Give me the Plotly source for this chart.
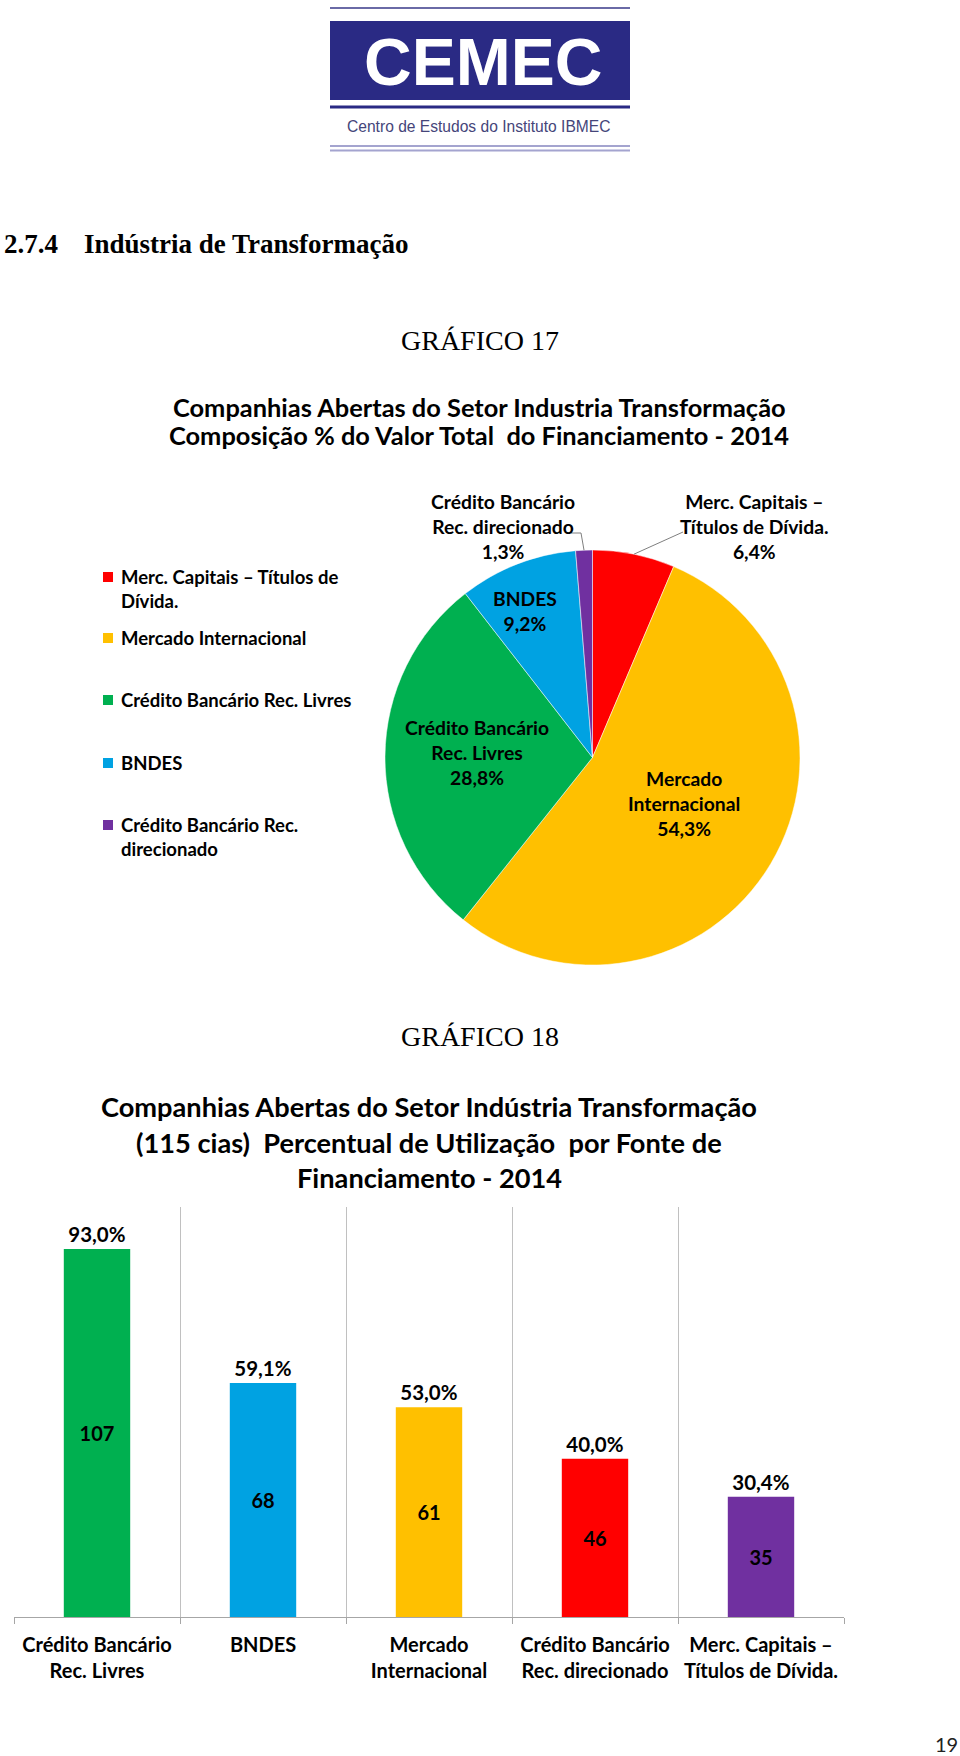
import math
import plotly.graph_objects as go

W, H = 960, 1756

# ---------------- data ----------------
pie_labels = ["Merc. Capitais – Títulos de Dívida.", "Mercado Internacional",
              "Crédito Bancário Rec. Livres", "BNDES", "Crédito Bancário Rec. direcionado"]
pie_values = [6.4, 54.3, 28.8, 9.2, 1.3]
pie_colors = ["#FF0000", "#FFC000", "#00B050", "#00A2E2", "#7030A0"]

bar_categories = ["Crédito Bancário Rec. Livres", "BNDES", "Mercado Internacional",
                  "Crédito Bancário Rec. direcionado", "Merc. Capitais – Títulos de Dívida."]
bar_percent = [93.0, 59.1, 53.0, 40.0, 30.4]
bar_companies = [107, 68, 61, 46, 35]
bar_colors = ["#00B050", "#00A2E2", "#FFC000", "#FF0000", "#7030A0"]

# text wrapping used for labels in charts
wrap_chart = {
    "Merc. Capitais – Títulos de Dívida.": "Merc. Capitais –<br>Títulos de Dívida.",
    "Mercado Internacional": "Mercado<br>Internacional",
    "Crédito Bancário Rec. Livres": "Crédito Bancário<br>Rec. Livres",
    "BNDES": "BNDES",
    "Crédito Bancário Rec. direcionado": "Crédito Bancário<br>Rec. direcionado",
}
wrap_legend = {
    "Merc. Capitais – Títulos de Dívida.": "Merc. Capitais – Títulos de<br>Dívida.",
    "Mercado Internacional": "Mercado Internacional",
    "Crédito Bancário Rec. Livres": "Crédito Bancário Rec. Livres",
    "BNDES": "BNDES",
    "Crédito Bancário Rec. direcionado": "Crédito Bancário Rec.<br>direcionado",
}

def pct(v):
    return f"{v:.1f}%".replace(".", ",")

def px(x):
    return x / W

def py(y):
    return 1 - y / H

SANS = "Lato, Carlito, Calibri, 'Open Sans', sans-serif"
SERIF = "'Liberation Serif', 'Times New Roman', serif"
ARIAL = "'Liberation Sans', Arial, sans-serif"
TXT = "#000000"

fig = go.Figure()

# ---------------- pie ----------------
cx, cy, r = 592.5, 757.5, 207.5
fig.add_trace(go.Pie(
    labels=pie_labels, values=pie_values, sort=False, direction="clockwise", rotation=0,
    marker=dict(colors=pie_colors, line=dict(color="white", width=0.5)),
    textinfo="none", hoverinfo="label+percent", showlegend=False,
    domain=dict(x=[px(cx - r), px(cx + r)], y=[py(cy + r), py(cy - r)]),
))

# slice mid points (for leader lines)
total = sum(pie_values)
mids = []
cum = 0
for v in pie_values:
    a = 2 * math.pi * (cum + v / 2) / total
    mids.append((cx + r * math.sin(a), cy - r * math.cos(a)))
    cum += v

annotations = []
shapes = []

def add_text(x, y, text, size, family=SANS, bold=True, color=TXT, xanchor="center", yanchor="middle"):
    annotations.append(dict(
        x=px(x), y=py(y), xref="paper", yref="paper", text=text, showarrow=False,
        xanchor=xanchor, yanchor=yanchor, align="center" if xanchor == "center" else "left",
        font=dict(family=family, size=size, color=color, weight="bold" if bold else "normal"),
    ))

# pie data labels (positions in pixels)
pie_label_pos = [(754, 527), (684, 803), (477, 752), (525, 611), (503, 527)]
for lab, v, (x, y) in zip(pie_labels, pie_values, pie_label_pos):
    add_text(x, y, f"{wrap_chart[lab]}<br>{pct(v)}", 19.3)

# leader lines for outside labels
mx, my = mids[4]
shapes.append(dict(type="path", xref="paper", yref="paper",
                   path=f"M {px(571)},{py(533)} L {px(581)},{py(533)} L {px(mx)},{py(my)}",
                   line=dict(color="#7F7F7F", width=1)))
mx, my = mids[0]
shapes.append(dict(type="path", xref="paper", yref="paper",
                   path=f"M {px(mx)},{py(my)} L {px(683)},{py(532)}",
                   line=dict(color="#7F7F7F", width=1)))

# legend (left)
leg_rows = [577, 638, 700, 763, 825]
for lab, col, y in zip(pie_labels, pie_colors, leg_rows):
    shapes.append(dict(type="rect", xref="paper", yref="paper",
                       x0=px(103), x1=px(113), y0=py(y - 5), y1=py(y + 5),
                       fillcolor=col, line=dict(width=0)))
    annotations.append(dict(
        x=px(119), y=py(y - 13), xref="paper", yref="paper", text=wrap_legend[lab],
        showarrow=False, xanchor="left", yanchor="top", align="left",
        font=dict(family=SANS, size=18.5, color=TXT, weight="bold")))

# ---------------- bar chart ----------------
xcats = [wrap_chart[c] for c in bar_categories]
fig.add_trace(go.Bar(
    x=xcats, y=bar_percent, marker=dict(color=bar_colors, line=dict(width=0)), width=0.4,
    text=[str(c) for c in bar_companies], textposition="inside", insidetextanchor="middle",
    textangle=0, constraintext="none",
    textfont=dict(family=SANS, size=20, color=TXT, weight="bold"),
    xaxis="x", yaxis="y", showlegend=False, hoverinfo="x+y",
))
fig.add_trace(go.Bar(
    x=xcats, y=bar_percent, marker=dict(color="rgba(0,0,0,0)", line=dict(width=0)), width=0.4,
    text=[pct(p) for p in bar_percent], textposition="outside", textangle=0,
    constraintext="none", cliponaxis=False,
    textfont=dict(family=SANS, size=20.5, color=TXT, weight="bold"),
    xaxis="x", yaxis="y", showlegend=False, hoverinfo="skip",
))

# ---------------- page texts ----------------
# logo
NAVY = "#2A2A84"
shapes.append(dict(type="line", xref="paper", yref="paper", x0=px(330), x1=px(630), y0=py(8), y1=py(8),
                   line=dict(color="#6A6AA6", width=2)))
shapes.append(dict(type="rect", xref="paper", yref="paper", x0=px(330), x1=px(630), y0=py(100), y1=py(21),
                   fillcolor=NAVY, line=dict(width=0)))
shapes.append(dict(type="line", xref="paper", yref="paper", x0=px(330), x1=px(630), y0=py(107), y1=py(107),
                   line=dict(color=NAVY, width=3)))
shapes.append(dict(type="line", xref="paper", yref="paper", x0=px(330), x1=px(630), y0=py(146), y1=py(146),
                   line=dict(color="#A4A4CF", width=2)))
shapes.append(dict(type="line", xref="paper", yref="paper", x0=px(330), x1=px(630), y0=py(150.5), y1=py(150.5),
                   line=dict(color="#A4A4CF", width=2)))
add_text(483, 62, "CEMEC", 66, family=ARIAL, color="white")
add_text(479, 127, "Centro de Estudos do Instituto IBMEC", 15.6, family=ARIAL, bold=False, color="#45457A")

add_text(2, 244, "2.7.4", 27, family=SERIF, color="black", xanchor="left")
add_text(82, 244, "Indústria de Transformação", 27, family=SERIF, color="black", xanchor="left")
add_text(480, 340, "GRÁFICO 17", 28, family=SERIF, bold=False, color="black")
add_text(480, 1036, "GRÁFICO 18", 28, family=SERIF, bold=False, color="black")

# pie title
add_text(479, 407, "Companhias Abertas do Setor Industria Transformação", 25.4)
add_text(479, 435, "Composição % do Valor Total  do Financiamento - 2014", 25.4)

# bar title
add_text(429, 1106, "Companhias Abertas do Setor Indústria Transformação", 27.2)
add_text(429, 1142, "(115 cias)  Percentual de Utilização  por Fonte de", 27.2)
add_text(429, 1177, "Financiamento - 2014", 27.2)

# page number
add_text(946, 1744, "19", 20, bold=False, color="#222222")

fig.update_layout(
    width=W, height=H, margin=dict(l=0, r=0, t=0, b=0),
    paper_bgcolor="white", plot_bgcolor="white",
    barmode="overlay", showlegend=False,
    xaxis=dict(domain=[px(14), px(844)], anchor="y", type="category", range=[-0.5, 4.5],
               tickson="boundaries", showgrid=True, gridcolor="#C0C0C0", gridwidth=1,
               ticks="outside", ticklen=6, tickcolor="#A6A6A6", showline=True,
               linecolor="#A6A6A6", linewidth=1, zeroline=False, ticklabelstandoff=10,
               tickfont=dict(family=SANS, size=20, color=TXT, weight="bold")),
    yaxis=dict(domain=[py(1617), py(1207)], anchor="x", range=[0, 103.6], visible=False,
               showgrid=False, zeroline=False),
    annotations=annotations, shapes=shapes,
)

fig.write_html("out.html")
